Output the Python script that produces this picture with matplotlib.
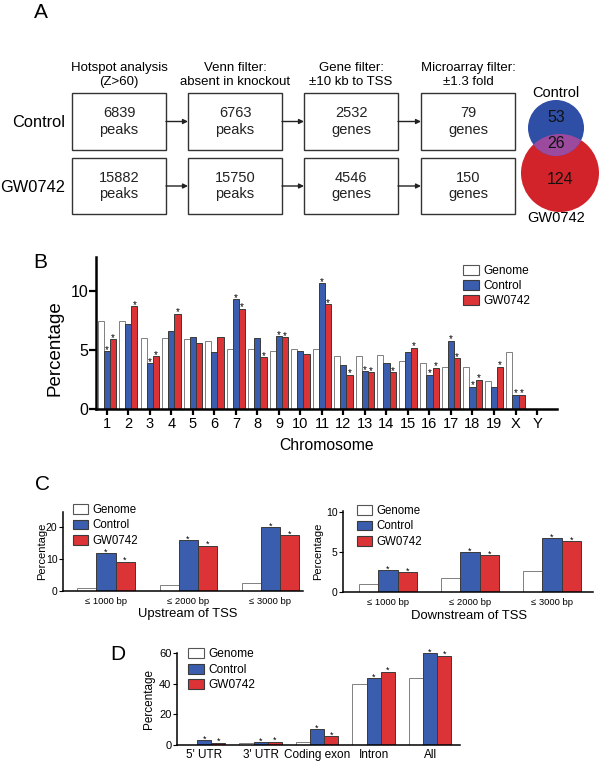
import numpy as np
import matplotlib
matplotlib.use("Agg")
import matplotlib.pyplot as plt
from matplotlib.patches import Rectangle, Circle, Patch

plt.rcParams['font.family'] = ['Liberation Sans', 'DejaVu Sans']

W, H = 600, 763
blue = '#3b5dae'
red = '#dc3337'
edge = '#3a3a3a'

# ---- data ----
steps = ['Hotspot analysis\n(Z>60)', 'Venn filter:\nabsent in knockout',
         'Gene filter:\n\u00b110 kb to TSS', 'Microarray filter:\n\u00b11.3 fold']
control_counts = [6839, 6763, 2532, 79]
gw_counts = [15882, 15750, 4546, 150]
count_units = ['peaks', 'peaks', 'genes', 'genes']
venn_control_only = 53
venn_shared = 26
venn_gw_only = 124

chromosomes = ['1', '2', '3', '4', '5', '6', '7', '8', '9', '10', '11', '12',
               '13', '14', '15', '16', '17', '18', '19', 'X', 'Y']
chr_genome = [7.5, 7.5, 6.0, 6.0, 5.9, 5.8, 5.1, 5.1, 4.9, 5.1, 5.1, 4.5,
              4.5, 4.6, 4.1, 3.9, 3.6, 3.6, 2.4, 4.8, 0]
chr_control = [4.9, 7.2, 3.9, 6.6, 6.1, 4.8, 9.3, 6.0, 6.2, 4.9, 10.7, 3.7,
               3.2, 3.9, 4.8, 2.9, 5.8, 1.9, 1.9, 1.2, 0]
chr_gw = [5.9, 8.7, 4.5, 8.1, 5.6, 6.1, 8.5, 4.4, 6.1, 4.7, 8.9, 2.9,
          3.1, 3.1, 5.2, 3.5, 4.3, 2.5, 3.6, 1.2, 0]
chr_control_sig = [1, 0, 1, 0, 0, 0, 1, 0, 1, 0, 1, 0, 1, 0, 0, 1, 1, 1, 0, 1, 0]
chr_gw_sig = [1, 1, 1, 1, 0, 0, 1, 1, 1, 0, 1, 1, 1, 1, 1, 1, 1, 1, 1, 1, 0]

tss_labels = ['\u2264 1000 bp', '\u2264 2000 bp', '\u2264 3000 bp']
up_genome = [1.0, 1.8, 2.5]
up_control = [11.8, 15.8, 20.0]
up_gw = [9.2, 14.2, 17.5]
down_genome = [1.0, 1.8, 2.6]
down_control = [2.7, 5.0, 6.7]
down_gw = [2.5, 4.6, 6.3]

regions = ["5' UTR", "3' UTR", 'Coding exon', 'Intron', 'All']
reg_genome = [0.3, 1.2, 1.9, 39.5, 43.5]
reg_control = [3.0, 1.9, 10.3, 43.8, 59.8]
reg_gw = [1.5, 2.1, 5.9, 47.9, 58.2]


fig = plt.figure(figsize=(W / 100, H / 100), dpi=100)

# overlay in pixel coordinates for panel A and letters
ov = fig.add_axes([0, 0, 1, 1])
ov.set_xlim(0, W)
ov.set_ylim(H, 0)
ov.axis('off')


def ax_px(x0, y0, x1, y1):
    return fig.add_axes([x0 / W, 1 - y1 / H, (x1 - x0) / W, (y1 - y0) / H])


for letter, (lx, ly) in zip('ABCD', [(41, 13), (40, 262), (42, 485), (118, 655)]):
    ov.text(lx, ly, letter, fontsize=15, ha='center', va='center')

# ---- panel A ----
box_x = [72, 188, 304, 421]
box_w = 94
rows = [(93, 150, control_counts, 'Control'), (158, 214, gw_counts, 'GW0742')]
for i, s in enumerate(steps):
    ov.text(box_x[i] + box_w / 2, 75, s, fontsize=9.5, ha='center', va='center',
            linespacing=1.3)
for y0, y1, counts, name in rows:
    yc = (y0 + y1) / 2
    ov.text(65, yc + 1, name, fontsize=11.8, ha='right', va='center')
    for i, (c, u) in enumerate(zip(counts, count_units)):
        ov.add_patch(Rectangle((box_x[i], y0), box_w, y1 - y0, fill=False,
                               ec='#333333', lw=1))
        ov.text(box_x[i] + box_w / 2, yc, f'{c}\n{u}', fontsize=10.5,
                ha='center', va='center', linespacing=1.25, color='#222222')
        if i < 3:
            ov.annotate('', xy=(box_x[i + 1], yc), xytext=(box_x[i] + box_w, yc),
                        arrowprops=dict(arrowstyle='-|>', lw=1, color='#222222',
                                        mutation_scale=7, shrinkA=0, shrinkB=0))

red_c = Circle((560, 173), 39, fc='#d2232a', ec='none')
blue_c = Circle((556, 128), 28, fc='#2f4ea6', ec='none')
ov.add_patch(red_c)
ov.add_patch(blue_c)
mix = Circle((556, 128), 28, fc='#9b4a9e', ec='none')
ov.add_patch(mix)
mix.set_clip_path(red_c)
ov.text(556, 93, 'Control', fontsize=10.5, ha='center', va='center')
ov.text(556, 117, str(venn_control_only), fontsize=11.5, ha='center', va='center', color='#111111')
ov.text(556, 143, str(venn_shared), fontsize=11.5, ha='center', va='center', color='#111111')
ov.text(560, 180, str(venn_gw_only), fontsize=11.5, ha='center', va='center', color='#111111')
ov.text(556, 218, 'GW0742', fontsize=10.5, ha='center', va='center')


def grouped(ax, genome, control, gw, width, star_fs, csig=None, gsig=None, lw=0.7):
    x = np.arange(len(genome))
    ax.bar(x - width, genome, width, color='white', edgecolor='#808080', lw=lw)
    ax.bar(x, control, width, color=blue, edgecolor=edge, lw=lw)
    ax.bar(x + width, gw, width, color=red, edgecolor=edge, lw=lw)
    if csig is None:
        csig = [1] * len(x)
    if gsig is None:
        gsig = [1] * len(x)
    off = -0.38 * star_fs
    for xi, v, s in zip(x, control, csig):
        if s:
            ax.annotate('*', (xi, v), xytext=(0, off), textcoords='offset points',
                        fontsize=star_fs, ha='center', va='bottom')
    for xi, v, s in zip(x, gw, gsig):
        if s:
            ax.annotate('*', (xi + width, v), xytext=(0, off), textcoords='offset points',
                        fontsize=star_fs, ha='center', va='bottom')
    return x


def style(ax, lw):
    for sp in ['top', 'right']:
        ax.spines[sp].set_visible(False)
    for sp in ['left', 'bottom']:
        ax.spines[sp].set_linewidth(lw)


def leg(ax, x, y, fs, ls):
    handles = [Patch(fc='white', ec='#555555', lw=0.8), Patch(fc=blue, ec=edge, lw=0.8),
               Patch(fc=red, ec=edge, lw=0.8)]
    ax.legend(handles, ['Genome', 'Control', 'GW0742'], loc='upper left',
              bbox_to_anchor=(x / W, 1 - y / H), bbox_transform=fig.transFigure,
              frameon=False, fontsize=fs, borderpad=0, borderaxespad=0,
              handlelength=1.3, handleheight=0.9, handletextpad=0.4, labelspacing=ls)


# ---- panel B ----
axB = ax_px(96, 257, 557, 409)
x = grouped(axB, chr_genome, chr_control, chr_gw, 0.28, 7,
            chr_control_sig, chr_gw_sig, lw=0.7)
axB.set_xlim(-0.51, 20.93)
axB.set_ylim(0, 12.9)
axB.set_xticks(x)
axB.set_xticklabels(chromosomes, fontsize=10.5)
axB.set_yticks([0, 5, 10])
axB.tick_params(axis='y', labelsize=11.5, width=1.6, length=5, pad=0.5)
axB.tick_params(axis='x', width=1.6, length=4, pad=2)
style(axB, 1.8)
axB.set_ylabel('Percentage', fontsize=13.5)
axB.yaxis.set_label_coords(-0.07, 0.4)
axB.set_xlabel('Chromosome', fontsize=11.3)
axB.xaxis.set_label_coords(0.5, -0.19)
leg(axB, 463, 265, 8.6, 0.25)

# ---- panel C ----
axC1 = ax_px(63, 512, 303, 591)
x = grouped(axC1, up_genome, up_control, up_gw, 0.232, 6.5)
axC1.set_xlim(-0.524, 2.40)
axC1.set_ylim(0, 24.7)
axC1.set_yticks([0, 10, 20])
axC1.set_xticks(x)
axC1.set_xticklabels(tss_labels, fontsize=6.8)
axC1.tick_params(axis='x', length=0, pad=4)
axC1.tick_params(axis='y', labelsize=7.5, length=3, pad=1)
style(axC1, 1.1)
axC1.set_ylabel('Percentage', fontsize=8)
axC1.yaxis.set_label_coords(-0.067, 0.5)
axC1.set_xlabel('Upstream of TSS', fontsize=9.4)
axC1.xaxis.set_label_coords(0.52, -0.22)
leg(axC1, 73, 504, 8.3, 0.3)

axC2 = ax_px(343, 511, 593, 592)
x = grouped(axC2, down_genome, down_control, down_gw, 0.235, 6.5)
axC2.set_xlim(-0.55, 2.5)
axC2.set_ylim(0, 10.1)
axC2.set_yticks([0, 5, 10])
axC2.set_xticks(x)
axC2.set_xticklabels(tss_labels, fontsize=6.8)
axC2.tick_params(axis='x', length=0, pad=4)
axC2.tick_params(axis='y', labelsize=7.5, length=3, pad=1)
style(axC2, 1.1)
axC2.set_ylabel('Percentage', fontsize=8)
axC2.yaxis.set_label_coords(-0.08, 0.5)
axC2.set_xlabel('Downstream of TSS', fontsize=9.4)
axC2.xaxis.set_label_coords(0.504, -0.22)
leg(axC2, 357, 505, 8.3, 0.3)

# ---- panel D ----
axD = ax_px(177, 653, 460, 745)
x = grouped(axD, reg_genome, reg_control, reg_gw, 0.25, 6.5)
axD.set_xlim(-0.48, 4.53)
axD.set_ylim(0, 60)
axD.set_yticks([0, 20, 40, 60])
axD.set_xticks(x)
axD.set_xticklabels(regions, fontsize=8.5)
axD.tick_params(axis='x', length=0, pad=3)
axD.tick_params(axis='y', labelsize=8, length=3, pad=1)
style(axD, 1.1)
axD.set_ylabel('Percentage', fontsize=8.5)
axD.yaxis.set_label_coords(-0.078, 0.5)
leg(axD, 188, 648, 8.6, 0.3)

fig.savefig('out.png', dpi=100)
